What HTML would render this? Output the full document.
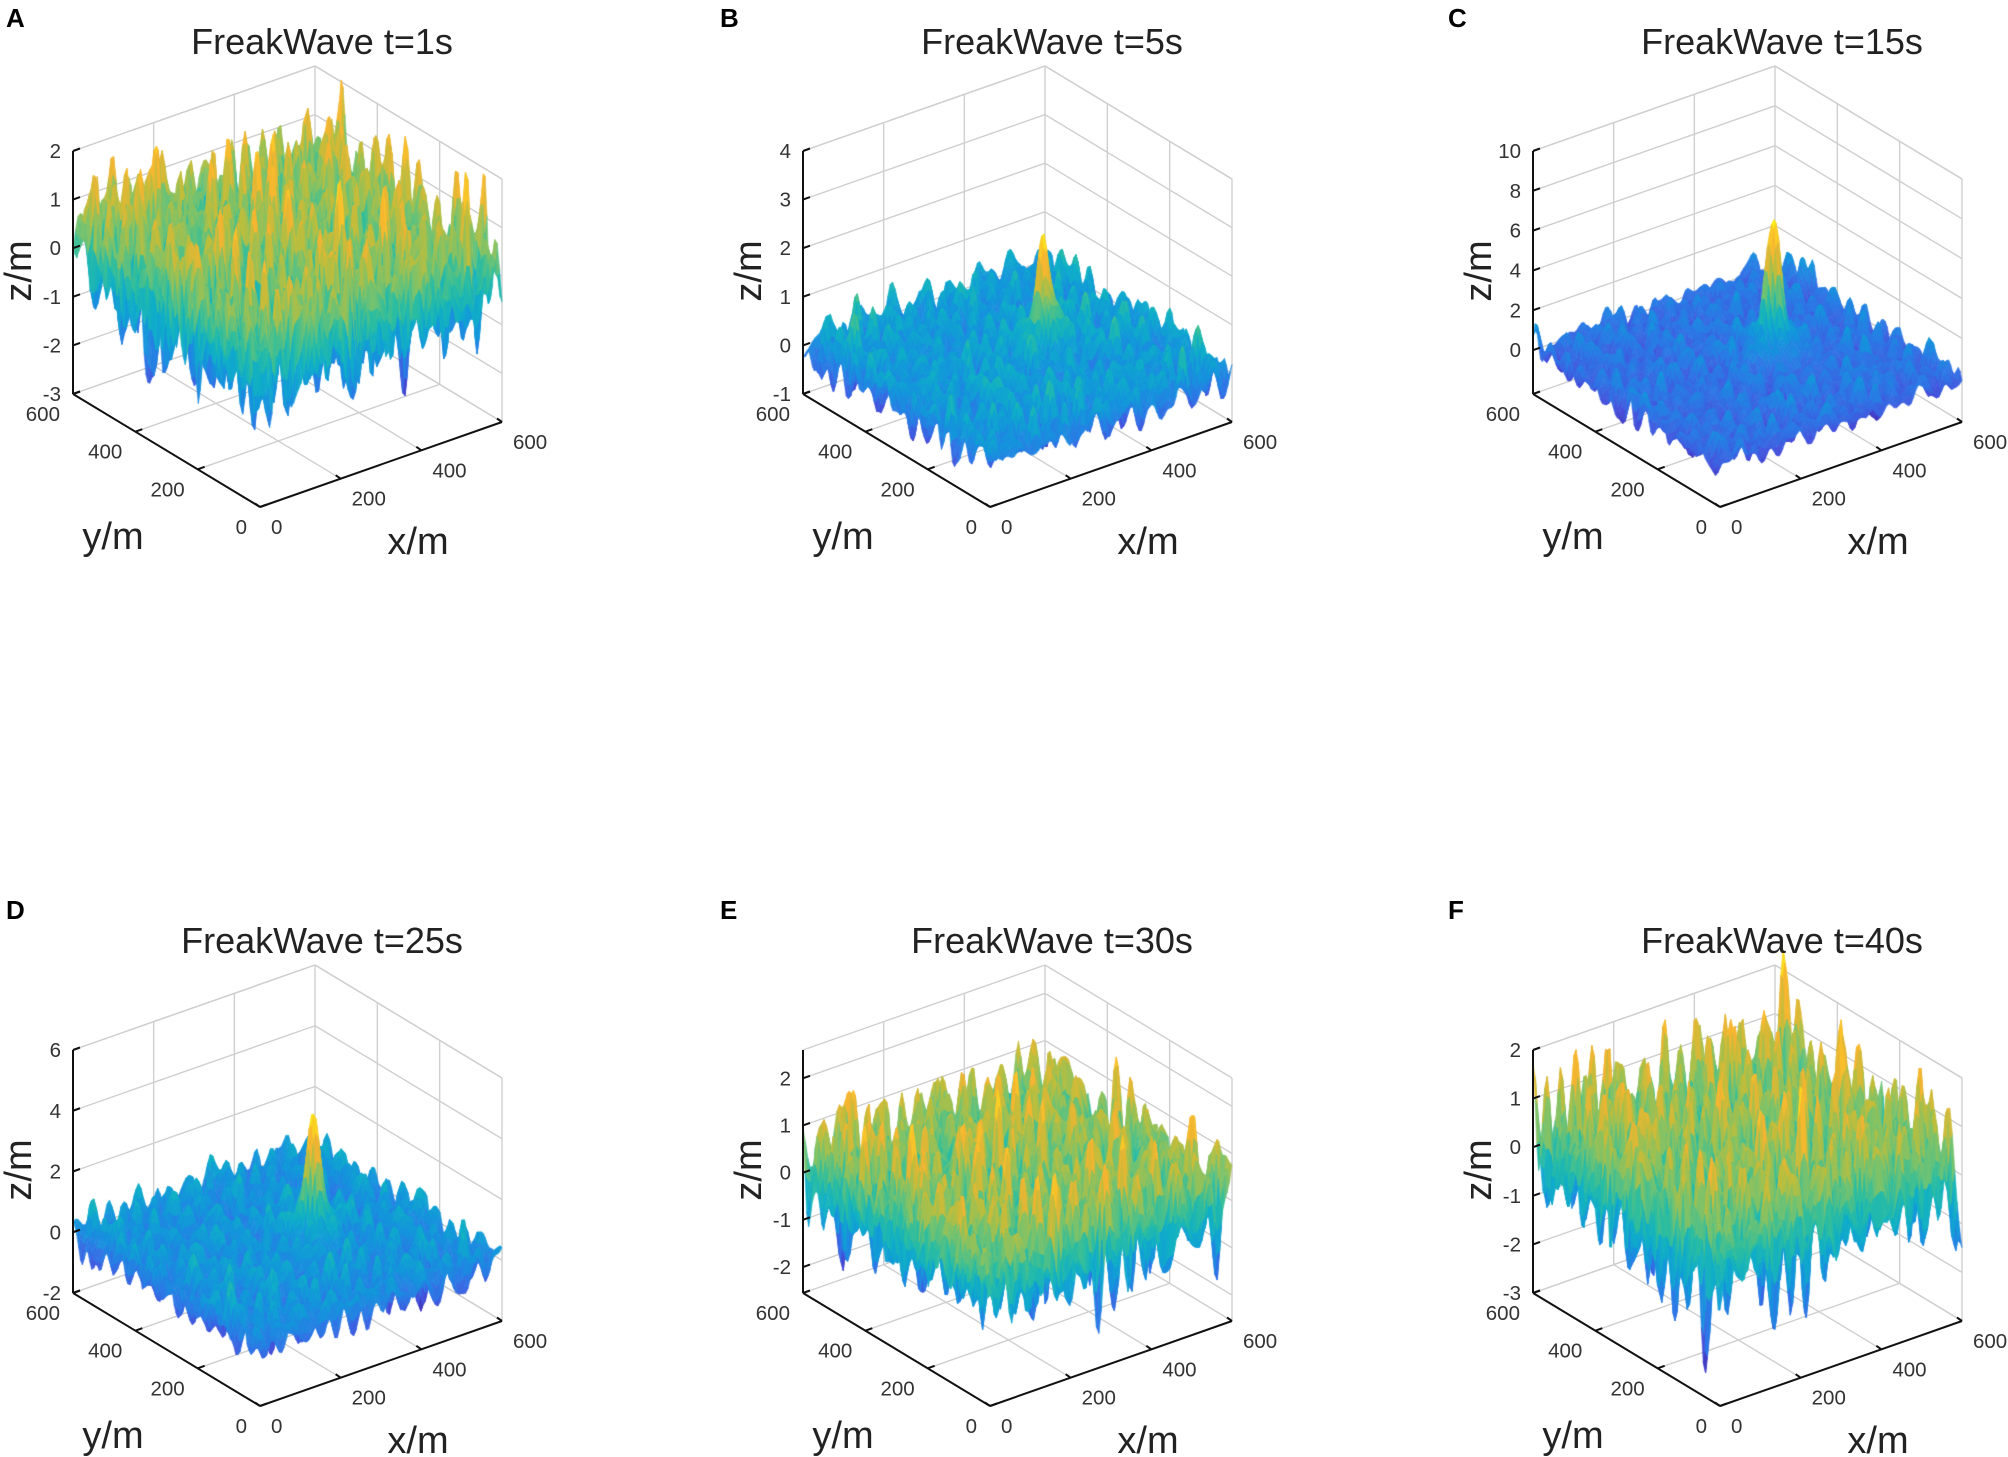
<!DOCTYPE html>
<html><head><meta charset="utf-8"><title>FreakWave surfaces</title>
<style>
html,body{margin:0;padding:0;background:#fff;}
#wrap{position:relative;width:2008px;height:1457px;overflow:hidden;background:#fff;}
svg,canvas{position:absolute;left:0;top:0;}
text{font-family:"Liberation Sans",Arial,sans-serif;}
</style></head>
<body>
<div id="wrap">
<svg id="gridLayer" width="2008" height="1457"></svg>
<canvas id="surf" width="2008" height="1457"></canvas>
<svg id="topLayer" width="2008" height="1457"></svg>
</div>
<script>
// ---- panel data ----
const panelLetters = ['A','B','C','D','E','F'];
const panelTimes = [1,5,15,25,30,40];
const zMins = [-3,-1,-2.2,-2,-2.55,-3];
const zMaxs = [2,4,10,6,2.6,2];
const zTickLists = [[-3,-2,-1,0,1,2],[-1,0,1,2,3,4],[0,2,4,6,8,10],[-2,0,2,4,6],[-2,-1,0,1,2],[-3,-2,-1,0,1,2]];
const xyTicks = [0,200,400,600];
const seaScales = [0.85,0.33,0.55,0.5,0.75,0.85];
const peakHeights = [0,2.6,7.6,4.3,0,0];
const peakX = 365, peakY = 300;
// wave spectrum components
const waveLengths = [40,55,32,70,48,28,90,36,60,44,26,75,50,34,65,30,42,38];
const waveDirs = [10,75,140,200,260,320,35,110,170,230,290,350,55,95,185,245,305,20];
const waveAmps = [0.35,0.3,0.28,0.3,0.26,0.22,0.3,0.25,0.28,0.27,0.2,0.28,0.25,0.24,0.26,0.2,0.24,0.23];
const wavePhases = [0.3,1.7,2.9,4.1,5.2,0.9,2.2,3.6,4.8,6.0,1.1,2.6,3.9,5.5,0.5,1.9,3.2,4.4];

const parula = [[62,38,168],[70,80,220],[45,120,230],[20,150,220],[15,175,200],[45,190,160],[120,195,110],[190,190,60],[245,180,50],[250,200,40],[249,251,14]];
function cmap(t){
  t=Math.max(0,Math.min(1,t))*(parula.length-1);
  const i=Math.min(parula.length-2,Math.floor(t)),f=t-i,a=parula[i],b=parula[i+1];
  return 'rgb('+Math.round(a[0]+(b[0]-a[0])*f)+','+Math.round(a[1]+(b[1]-a[1])*f)+','+Math.round(a[2]+(b[2]-a[2])*f)+')';
}
const SVGNS='http://www.w3.org/2000/svg';
const gridLayer=document.getElementById('gridLayer');
const topLayer=document.getElementById('topLayer');
const ctx=document.getElementById('surf').getContext('2d');
const letterXs=[6,720,1448];
const letterYs=[19,911];

function mk(tag,attrs,parent){
  const el=document.createElementNS(SVGNS,tag);
  for(const k in attrs) el.setAttribute(k,attrs[k]);
  parent.appendChild(el);
  return el;
}

function sea(x,y,t){
  let s=0;
  for(let c=0;c<waveLengths.length;c++){
    const k=2*Math.PI/waveLengths[c], th=waveDirs[c]*Math.PI/180, w=Math.sqrt(9.81*k);
    s+=waveAmps[c]*Math.cos(k*(x*Math.cos(th)+y*Math.sin(th))-w*t+wavePhases[c]);
  }
  return s;
}

for(let p=0;p<6;p++){
  const col=p%3,row=Math.floor(p/3);
  const Ox=260+col*730, Oy=507+row*899;
  const zmin=zMins[p], zmax=zMaxs[p];
  const P=(x,y,z)=>[Ox+x/600*242-y/600*187, Oy-x/600*85-y/600*113-(z-zmin)/(zmax-zmin)*243];
  const g=mk('g',{},gridLayer);
  
  
  const gl=(a,b)=>{const l=mk('line',{x1:a[0],y1:a[1],x2:b[0],y2:b[1],stroke:'#cfcfcf','stroke-width':1.4},g);
    
    };
  for(const v of [200,400,600]){ gl(P(v,0,zmin),P(v,600,zmin)); gl(P(0,v,zmin),P(600,v,zmin)); }
  const zl=zTickLists[p].concat([zmax]);
  for(const z of zl){ gl(P(0,600,z),P(600,600,z)); gl(P(600,600,z),P(600,0,z)); }
  for(const v of [200,400,600]) gl(P(v,600,zmin),P(v,600,zmax));
  for(const v of [0,200,400]) gl(P(600,v,zmin),P(600,v,zmax));

  // surface
  const N=100, d=600/N, t=panelTimes[p];
  const Z=[];let mn=1e9,mx=-1e9;
  for(let j=0;j<=N;j++){const r=[];for(let i=0;i<=N;i++){
    const x=i*d,y=j*d;
    const r2=(x-peakX)**2+(y-peakY)**2;
    let z=seaScales[p]*sea(x,y,t)+peakHeights[p]*(0.8*Math.exp(-r2/(2*13*13))+0.2*Math.exp(-r2/(2*40*40)));
    r.push(z);if(z<mn)mn=z;if(z>mx)mx=z;}Z.push(r);}
  const S=[];for(let j=0;j<=N;j++){const r=[];for(let i=0;i<=N;i++)r.push(P(i*d,j*d,Z[j][i]));S.push(r);}
  for(let j=N-1;j>=0;j--)for(let i=N-1;i>=0;i--){
    const zc=(Z[j][i]+Z[j][i+1]+Z[j+1][i]+Z[j+1][i+1])/4;
    const c=cmap((zc-mn)/(mx-mn));
    ctx.fillStyle=c;ctx.strokeStyle=c;ctx.lineWidth=0.6;
    ctx.beginPath();ctx.moveTo(S[j][i][0],S[j][i][1]);ctx.lineTo(S[j][i+1][0],S[j][i+1][1]);
    ctx.lineTo(S[j+1][i+1][0],S[j+1][i+1][1]);ctx.lineTo(S[j+1][i][0],S[j+1][i][1]);ctx.closePath();ctx.fill();ctx.stroke();
  }

  // axes
  const a=mk('g',{},topLayer);
  
  
  const al=(u,v,name)=>{const l=mk('line',{x1:u[0],y1:u[1],x2:v[0],y2:v[1],stroke:'#111','stroke-width':2},a);
    
    };
  al(P(0,600,zmin),P(0,600,zmax),'z-axis');
  al(P(0,0,zmin),P(0,600,zmin),'y-axis');
  al(P(0,0,zmin),P(600,0,zmin),'x-axis');
  const tx=(x,y,s,size,anchor,name,extra)=>{const e=mk('text',Object.assign({x:x,y:y,'font-size':size,'text-anchor':anchor,fill:'#222'},extra||{}),a);
    e.textContent=s;
    
    return e;};
  for(const z of zTickLists[p]){const q=P(0,600,z);al(q,[q[0]+7,q[1]-2.5],'z-tick');tx(q[0]-12,q[1]+7,String(z),20.5,'end','z-tick-label',{fill:'#333'});}
  for(const v of xyTicks){
    const q=P(0,v,zmin);al(q,[q[0]+7,q[1]-2.5],'y-tick');tx(q[0]-13,q[1]+27,String(v),20.5,'end','y-tick-label',{fill:'#333'});
    const r=P(v,0,zmin);al(r,[r[0]-5,r[1]-3.5],'x-tick');tx(r[0]+11,r[1]+27,String(v),20.5,'start','x-tick-label',{fill:'#333'});
  }
  tx(Ox-147,Oy+42,'y/m',38,'middle','y-axis-title');
  tx(Ox+158,Oy+47,'x/m',38,'middle','x-axis-title');
  tx(0,0,'z/m',38,'middle','z-axis-title',{transform:'translate('+(Ox-229)+','+(Oy-236)+') rotate(-90)'});
  tx(Ox+62,Oy-453,'FreakWave t='+panelTimes[p]+'s',36,'middle','panel-title');
  tx(letterXs[col],letterYs[row]+8,panelLetters[p],26,'start','panel-letter',{'font-weight':'bold',fill:'#000'});
}
</script>
</body></html>
